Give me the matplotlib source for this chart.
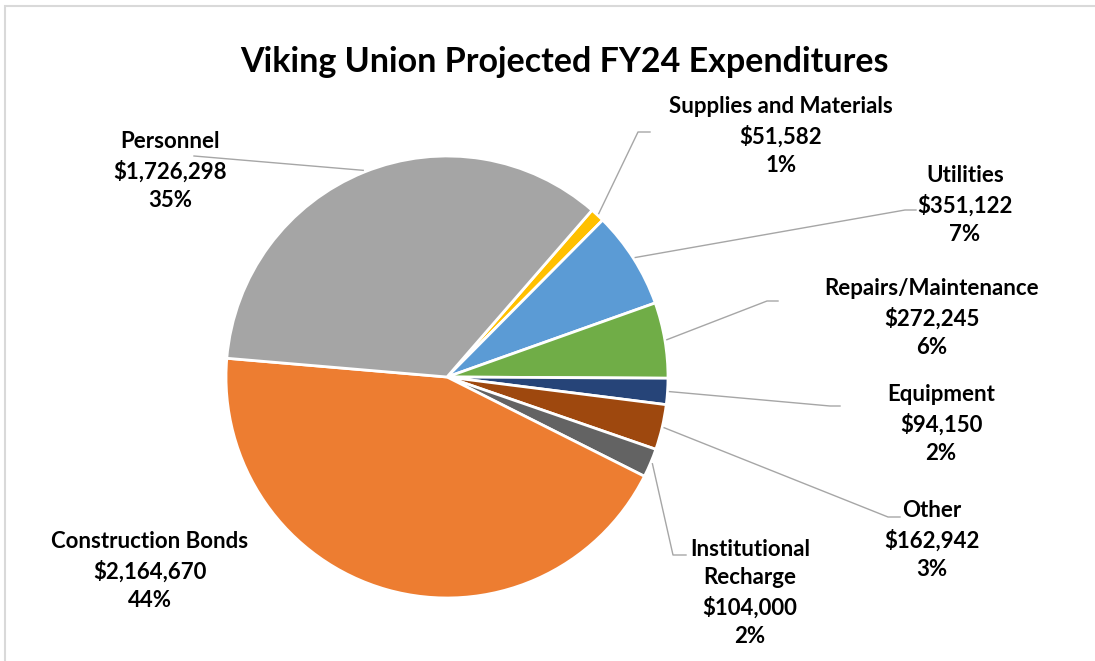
import matplotlib.pyplot as plt
from matplotlib.patches import Rectangle
import numpy as np

categories = ["Supplies and Materials", "Utilities", "Repairs/Maintenance", "Equipment",
              "Other", "Institutional\nRecharge", "Construction Bonds", "Personnel"]
amounts = [51582, 351122, 272245, 94150, 162942, 104000, 2164670, 1726298]
colors = ["#FFC000", "#5B9BD5", "#70AD47", "#264478",
          "#9E480E", "#636363", "#ED7D31", "#A5A5A5"]
title = "Viking Union Projected FY24 Expenditures"

W, H = 1095, 661
CX, CY, R = 447, 377, 221

# label centres and leader line points, in pixels from the top left
label_pos = [(781, 136), (965, 205), (932, 318), (941, 424),
             (932, 540), (750, 593), (150, 571), (170, 171)]
leaders = [
    [(638, 132), (650, 132)],
    [(905, 210), (916, 210)],
    [(767, 301), (778, 301)],
    [(830, 406), (840, 406)],
    [(888, 517), (900, 517)],
    [(673, 555), (686, 555)],
    None,
    [(194, 156)],
]

plt.rcParams['font.family'] = ['Lato', 'DejaVu Sans']

fig = plt.figure(figsize=(W / 100, H / 100), dpi=100)
ax = fig.add_axes([0, 0, 1, 1])

wedges, _ = ax.pie(amounts, colors=colors, startangle=49, counterclock=False,
                   center=(CX, H - CY), radius=R,
                   wedgeprops=dict(edgecolor='white', linewidth=2.0))

ax.set_xlim(0, W)
ax.set_ylim(0, H)
ax.set_aspect('equal')
ax.set_axis_off()

total = sum(amounts)
for w, name, amt, pos, lead in zip(wedges, categories, amounts, label_pos, leaders):
    pct = amt / total * 100
    ax.text(pos[0], H - pos[1], f"{name}\n${amt:,}\n{pct:.0f}%",
            ha='center', va='center', fontsize=16, fontweight='bold',
            color='black', linespacing=1.45)
    if lead:
        mid = np.deg2rad((w.theta1 + w.theta2) / 2)
        xs = [CX + (R + 2) * np.cos(mid)] + [p[0] for p in lead]
        ys = [H - CY + (R + 2) * np.sin(mid)] + [H - p[1] for p in lead]
        ax.plot(xs, ys, color='#A6A6A6', linewidth=1.0)

ax.text(564, H - 62, title, ha='center', va='center',
        fontsize=24.5, fontweight='bold', color='black')

ax.add_patch(Rectangle((5, -10), W + 10, H - 6 + 10, fill=False,
                       edgecolor='#D9D9D9', linewidth=1.5))

fig.savefig("out.png", dpi=100, facecolor='white')
